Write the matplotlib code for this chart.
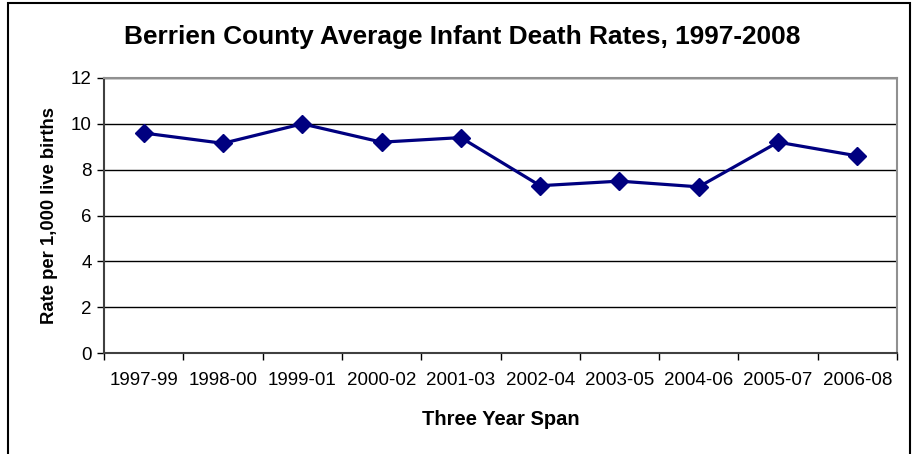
import matplotlib
matplotlib.use("Agg")
import matplotlib.pyplot as plt
from matplotlib.patches import Rectangle

categories = ["1997-99", "1998-00", "1999-01", "2000-02", "2001-03",
              "2002-04", "2003-05", "2004-06", "2005-07", "2006-08"]
rates = [9.6, 9.15, 10.0, 9.2, 9.4, 7.3, 7.5, 7.25, 9.2, 8.6]
y_ticks = [0, 2, 4, 6, 8, 10, 12]

plt.rcParams['font.family'] = ['Liberation Sans', 'DejaVu Sans']

W, H = 917, 454
fig = plt.figure(figsize=(W / 100, H / 100), dpi=100)
left, right, top, bottom = 104, 897, 78, 353
ax = fig.add_axes([left / W, 1 - bottom / H, (right - left) / W, (bottom - top) / H])

x = list(range(len(categories)))
ax.plot(x, rates, color="#000080", linewidth=2.3, marker="D", markersize=8.7,
        markerfacecolor="#000080", markeredgecolor="#000080", zorder=3)

ax.set_xlim(-0.5, len(categories) - 0.5)
ax.set_ylim(0, 12)
ax.set_yticks(y_ticks)
ax.set_yticklabels([str(v) for v in y_ticks], fontsize=13.5)
ax.set_xticks([i + 0.5 for i in range(-1, len(categories))])
ax.set_xticklabels([])
ax.set_xticks(x, minor=True)
ax.set_xticklabels(categories, minor=True, fontsize=13.5)
ax.tick_params(axis="x", which="minor", length=0, pad=14)
ax.tick_params(axis="x", which="major", length=5, width=1, color="#000000")
ax.tick_params(axis="y", length=5, width=1, pad=4)

ax.yaxis.grid(True, color="#000000", linewidth=1)
ax.set_axisbelow(True)
for s in ["top", "right"]:
    ax.spines[s].set_color("#909090")
    ax.spines[s].set_linewidth(1.5)
for s in ["left", "bottom"]:
    ax.spines[s].set_color("#404040")
    ax.spines[s].set_linewidth(1.5)

ax.set_xlabel("Three Year Span", fontsize=14.5, fontweight="bold", labelpad=15)
ax.set_ylabel("Rate per 1,000 live births", fontsize=13.3, fontweight="bold", labelpad=9)

fig.text(462 / W, 1 - 37 / H, "Berrien County Average Infant Death Rates, 1997-2008",
         ha="center", va="center", fontsize=18.9, fontweight="bold")

fig.patches.append(Rectangle((8 / W, -0.05), (910 - 8) / W, 1 - 3 / H + 0.05,
                             transform=fig.transFigure, fill=False,
                             edgecolor="black", linewidth=1.5))

fig.savefig("out.png", dpi=100)
